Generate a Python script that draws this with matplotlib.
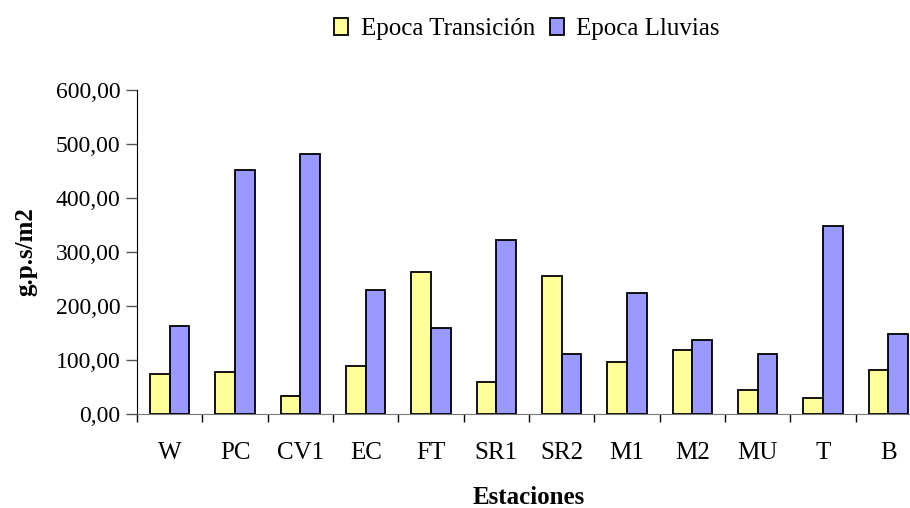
import matplotlib
matplotlib.use("Agg")
import matplotlib.pyplot as plt
import numpy as np
from matplotlib.ticker import FuncFormatter, FixedLocator

estaciones = ["W", "PC", "CV1", "EC", "FT", "SR1", "SR2", "M1", "M2", "MU", "T", "B"]
transicion = [74, 78, 34, 89, 263, 59, 256, 97, 118, 45, 30, 82]
lluvias = [163, 451, 481, 229, 159, 322, 111, 225, 137, 111, 348, 148]
series_names = ["Epoca Transición", "Epoca Lluvias"]
yticks = [0, 100, 200, 300, 400, 500, 600]

plt.rcParams['font.family'] = ['Liberation Serif', 'DejaVu Serif']

fig = plt.figure(figsize=(9.1, 5.08), dpi=100)
W, H = 910, 508
left, right, bottom, top = 137, 921, 414, 90
ax = fig.add_axes([left / W, 1 - bottom / H, (right - left) / W, (bottom - top) / H])

x = np.arange(len(estaciones))
bw = 0.3
ax.bar(x - bw / 2, transicion, width=bw, color="#FFFF99", edgecolor="black", linewidth=1.3,
       label=series_names[0], zorder=3)
ax.bar(x + bw / 2, lluvias, width=bw, color="#9999FF", edgecolor="black", linewidth=1.3,
       label=series_names[1], zorder=3)

ax.set_xlim(-0.5, len(estaciones) - 0.5)
ax.set_ylim(0, 600)
ax.set_yticks(yticks)
ax.yaxis.set_major_formatter(FuncFormatter(lambda v, p: f"{v:.2f}".replace(".", ",")))
ax.set_xticks(x)
ax.set_xticklabels(estaciones)
ax.xaxis.set_minor_locator(FixedLocator(np.arange(-0.5, len(estaciones), 1.0)))
ax.tick_params(axis='x', which='major', length=0, pad=20, labelsize=18)
ax.tick_params(axis='x', which='minor', length=6, width=1, color="black")
ax.tick_params(axis='y', which='major', length=8, width=1, color="#555555", labelsize=17, pad=4)

for s in ["top", "right"]:
    ax.spines[s].set_visible(False)
ax.spines["left"].set_color("black")
ax.spines["bottom"].set_color("#777777")

fig.text(26 / W, 1 - 252 / H, "g.p.s/m2", rotation=90, ha="center", va="center",
         fontsize=18, fontweight="bold")
fig.text(529 / W, 1 - 497 / H, "Estaciones", ha="center", va="center",
         fontsize=18, fontweight="bold")

fig.legend(loc="center", bbox_to_anchor=(527 / W, 1 - 29 / H), ncol=2, frameon=False,
           fontsize=18, handlelength=0.55, handleheight=0.7, handletextpad=0.5,
           columnspacing=0.6, borderpad=0)

fig.savefig("out.png", dpi=100)
